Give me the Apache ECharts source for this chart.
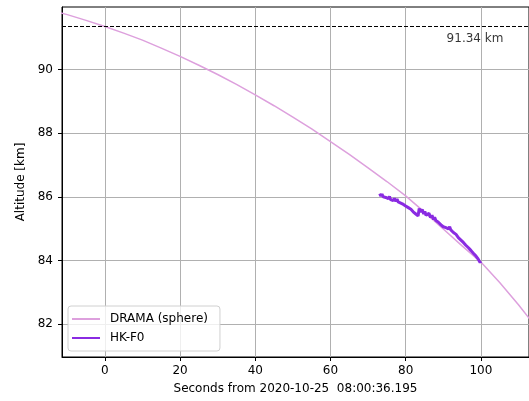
<!DOCTYPE html>
<html>
<head>
<meta charset="utf-8">
<script src="https://cdn.jsdelivr.net/npm/echarts@6/dist/echarts.min.js"></script>
<style>html,body{margin:0;padding:0;background:#fff}#c{width:529px;height:401px}</style>
</head>
<body>
<div id="c"></div>
<script>
// DRAMA (sphere) model: time [s], altitude [km]
const dramaT = [-12, -10, -5, 0, 5, 10, 15, 20, 25, 30, 35, 40, 45, 50, 55, 60, 65, 70, 75, 80, 85, 90, 95, 100, 105, 110, 113];
const dramaAlt = [91.78, 91.72, 91.54, 91.35, 91.14, 90.92, 90.67, 90.41, 90.13, 89.84, 89.53, 89.20, 88.86, 88.50, 88.13, 87.73, 87.33, 86.91, 86.48, 86.03, 85.52, 84.99, 84.46, 83.95, 83.31, 82.61, 82.16];
// HK-F0 measurements
const hkT = [73.1, 73.4, 73.7, 74.0, 74.3, 74.7, 75.0, 75.4, 75.7, 76.0, 76.4, 76.7, 77.0, 77.4, 77.7, 78.0, 78.4, 78.7, 79.0, 79.4, 79.7, 80.0, 80.4, 80.7, 81.0, 81.4, 81.7, 82.0, 82.4, 82.7, 83.0, 83.3, 83.6, 84.0, 84.4, 84.8, 85.1, 85.4, 85.8, 86.2, 86.6, 87.0, 87.4, 87.7, 88.0, 88.4, 88.7, 89.0, 89.4, 89.7, 90.0, 90.4, 90.7, 91.0, 91.4, 91.7, 92.0, 92.4, 92.7, 93.0, 93.4, 93.7, 94.0, 94.4, 94.7, 95.0, 95.4, 95.7, 96.0, 96.4, 96.7, 97.0, 97.4, 97.7, 98.0, 98.4, 98.7, 99.0, 99.3, 99.6, 99.8, 100.0];
const hkAlt = [86.10, 86.02, 86.09, 86.00, 86.06, 85.98, 86.04, 85.94, 86.01, 85.91, 85.97, 85.88, 85.95, 85.86, 85.93, 85.84, 85.90, 85.80, 85.85, 85.76, 85.80, 85.71, 85.76, 85.66, 85.70, 85.61, 85.63, 85.53, 85.58, 85.46, 85.50, 85.40, 85.63, 85.52, 85.60, 85.46, 85.54, 85.42, 85.36, 85.48, 85.35, 85.42, 85.29, 85.36, 85.26, 85.32, 85.20, 85.25, 85.12, 85.18, 85.06, 85.12, 85.03, 85.09, 84.99, 85.06, 84.96, 85.00, 84.88, 84.93, 84.82, 84.86, 84.72, 84.76, 84.64, 84.67, 84.56, 84.59, 84.48, 84.51, 84.40, 84.42, 84.31, 84.34, 84.23, 84.25, 84.14, 84.16, 84.04, 84.06, 83.94, 83.98];
const xTicks = [0, 20, 40, 60, 80, 100];
const yTicks = [82, 84, 86, 88, 90];
const refAlt = 91.34;
const refLabel = '91.34 km';
const seriesNames = ['DRAMA (sphere)', 'HK-F0'];

const font = 'DejaVu Sans';
const chart = echarts.init(document.getElementById('c'));
chart.setOption({
  animation: false,
  backgroundColor: '#fff',
  textStyle: {fontFamily: font},
  grid: {left: 62, top: 7, right: -1, bottom: 44, show: true, borderColor: '#000', borderWidth: 1, backgroundColor: 'transparent'},
  xAxis: {
    type: 'value', min: -11.4, max: 112.8, splitNumber: 6,
    name: 'Seconds from 2020-10-25  08:00:36.195', nameLocation: 'middle', nameGap: 26,
    nameTextStyle: {fontFamily: font, fontSize: 12, color: '#000'},
    axisLine: {show: true, onZero: false, lineStyle: {color: '#000', width: 1}},
    axisTick: {show: true, length: 4, lineStyle: {color: '#000'}, customValues: xTicks},
    axisLabel: {fontFamily: font, fontSize: 12, color: '#000', margin: 8, customValues: xTicks,
      formatter: v => (xTicks.indexOf(v) >= 0 ? String(v) : '')},
    splitLine: {show: true, lineStyle: {color: '#b0b0b0', width: 1}}
  },
  yAxis: {
    type: 'value', min: 80.97, max: 91.96, splitNumber: 5,
    name: 'Altitude [km]', nameLocation: 'middle', nameGap: 33, nameRotate: 90,
    nameTextStyle: {fontFamily: font, fontSize: 12, color: '#000'},
    axisLine: {show: true, onZero: false, lineStyle: {color: '#000', width: 1}},
    axisTick: {show: true, length: 4, lineStyle: {color: '#000'}, customValues: yTicks},
    axisLabel: {fontFamily: font, fontSize: 12, color: '#000', margin: 9, customValues: yTicks,
      formatter: v => (yTicks.indexOf(v) >= 0 ? String(v) : '')},
    splitLine: {show: true, lineStyle: {color: '#b0b0b0', width: 1}}
  },
  legend: {
    data: seriesNames, orient: 'vertical', left: 68, top: 306,
    padding: [6, 12, 6, 4], itemGap: 5, itemWidth: 28, itemHeight: 2,
    backgroundColor: 'rgba(255,255,255,0.8)', borderColor: '#d0d0d0', borderWidth: 1, borderRadius: 3,
    icon: 'rect',
    textStyle: {fontFamily: font, fontSize: 12, color: '#000', lineHeight: 14, padding: [0, 0, 0, 5]}
  },
  series: [
    {
      name: seriesNames[0], type: 'line', smooth: false, showSymbol: false, symbol: 'none',
      data: dramaT.map((t, i) => [t, dramaAlt[i]]),
      lineStyle: {color: '#dda0dd', width: 1.5}, itemStyle: {color: '#dda0dd'}, z: 2,
      markLine: {
        silent: true, symbol: 'none', animation: false,
        lineStyle: {color: '#000', width: 1, type: [4, 2]},
        label: {show: false},
        data: [{yAxis: refAlt}]
      }
    },
    {
      name: seriesNames[1], type: 'line', showSymbol: false, symbol: 'none',
      data: hkT.map((t, i) => [t, hkAlt[i]]),
      lineStyle: {color: '#8a2be2', width: 3}, itemStyle: {color: '#8a2be2'}, z: 3
    },
    {
      name: 'annotation', type: 'scatter', symbolSize: 0, silent: true,
      data: [[106, refAlt]],
      label: {show: true, position: 'inside', formatter: refLabel, align: 'right', verticalAlign: 'top',
        offset: [0, 6], fontFamily: font, fontSize: 12, color: '#000'}
    }
  ]
});
</script>
</body>
</html>
